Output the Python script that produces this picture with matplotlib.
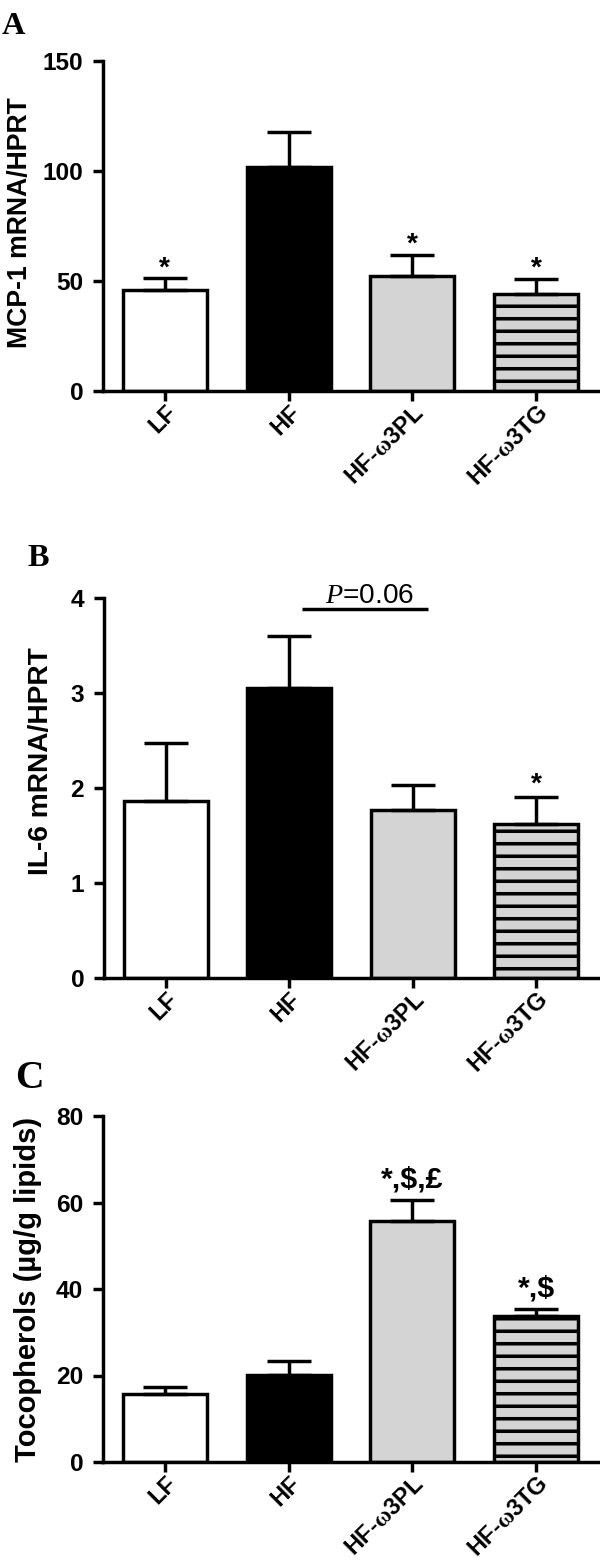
import matplotlib
matplotlib.use('Agg')
import matplotlib.pyplot as plt
import numpy as np

# ---------------- data ----------------
groups = ['LF', 'HF', 'HF-ω3PL', 'HF-ω3TG']
group_labels = ['LF', 'HF', r'HF-$\mathrm{ω}$3PL', r'HF-$\mathrm{ω}$3TG']

mcp1_mean = [45.9, 102.0, 52.4, 44.0]
mcp1_sem = [5.3, 15.9, 9.4, 6.9]
mcp1_marks = ['*', '', '*', '*']

il6_mean = [1.86, 3.05, 1.77, 1.62]
il6_sem = [0.61, 0.55, 0.26, 0.29]
il6_marks = ['', '', '', '*']

toco_mean = [15.7, 20.2, 55.7, 33.8]
toco_sem = [1.7, 3.2, 4.8, 1.5]
toco_marks = ['', '', '*,$,£', '*,$']

# ---------------- style ----------------
DPI = 75
W, H = 600, 1563
plt.rcParams['font.family'] = ['Liberation Sans', 'DejaVu Sans']
plt.rcParams['mathtext.fontset'] = 'custom'
plt.rcParams['mathtext.rm'] = 'Liberation Serif:bold'
plt.rcParams['mathtext.it'] = 'Liberation Serif:italic'
plt.rcParams['hatch.linewidth'] = 3.4
plt.rcParams['hatch.color'] = 'black'

face_colors = ['white', 'black', '#D4D4D4', '#D4D4D4']
hatches = ['', '', '', '-']
LW = 3.3

fig = plt.figure(figsize=(W / DPI, H / DPI), dpi=DPI)


def px_axes(left, right, top, bottom):
    return fig.add_axes([left / W, 1 - bottom / H, (right - left) / W, (bottom - top) / H])


def panel(ax, means, sems, marks, ymax, yticks, ylabel, ylab_x, ylab_y, ylab_size,
          mark_size, mark_off):
    x = np.arange(len(groups))
    bars = ax.bar(x, means, width=0.68, color=face_colors, edgecolor='black',
                  linewidth=LW, zorder=2)
    for b, h in zip(bars, hatches):
        if h:
            b.set_hatch(h)
    ax.errorbar(x, means, yerr=[np.zeros(len(sems)), sems], fmt='none', ecolor='black',
                elinewidth=LW, capsize=21, capthick=LW, zorder=3)
    for i, m in enumerate(marks):
        if m:
            ax.annotate(m, xy=(x[i], means[i] + sems[i]), xytext=(0, mark_off),
                        textcoords='offset points', ha='center', va='baseline',
                        fontsize=mark_size, fontweight='bold', annotation_clip=False)
    ax.set_xlim(-0.5, 3.5)
    ax.set_ylim(0, ymax)
    ax.set_yticks(yticks)
    ax.set_yticklabels([str(t) for t in yticks], fontweight='bold')
    ax.set_xticks(x)
    ax.set_xticklabels(group_labels, rotation=45, ha='right', va='top',
                       rotation_mode='anchor', fontweight='bold', fontsize=22.5)
    for s in ['top', 'right']:
        ax.spines[s].set_visible(False)
    for s in ['left', 'bottom']:
        ax.spines[s].set_linewidth(LW)
    ax.tick_params(axis='both', direction='out', length=10, width=LW)
    ax.tick_params(axis='y', labelsize=23.5, pad=9)
    ax.tick_params(axis='x', pad=0)
    ax.set_ylabel(ylabel, fontsize=ylab_size, fontweight='bold', va='top')
    ax.yaxis.set_label_coords(ylab_x, ylab_y)


# Panel A
axA = px_axes(103, 598, 61, 391)
panel(axA, mcp1_mean, mcp1_sem, mcp1_marks, 150, [0, 50, 100, 150],
      'MCP-1 mRNA/HPRT', -0.194, 0.51, 25.5, 27, 3)

# Panel B
axB = px_axes(104, 598, 598, 978)
panel(axB, il6_mean, il6_sem, il6_marks, 4, [0, 1, 2, 3, 4],
      'IL-6 mRNA/HPRT', -0.154, 0.57, 27, 27, 5)
axB.plot([1.1, 2.12], [3.88, 3.88], color='black', lw=LW, solid_capstyle='butt',
         clip_on=False)
axB.text(1.65, 3.95, r'$\mathit{P}$=0.06', ha='center', va='baseline', fontsize=27,
         fontweight='normal')

# Panel C
axC = px_axes(103, 598, 1116, 1462)
panel(axC, toco_mean, toco_sem, toco_marks, 80, [0, 20, 40, 60, 80],
      'Tocopherols (µg/g lipids)', -0.18, 0.5, 28, 29, 12)

# panel letters
for letter, lx, ly, size in [('A', 2, 34, 31), ('B', 27, 566, 31), ('C', 15, 1088, 38)]:
    fig.text(lx / W, 1 - ly / H, letter, family='Liberation Serif', fontweight='bold',
             fontsize=size, ha='left', va='baseline')

fig.savefig('out.png', dpi=DPI)
